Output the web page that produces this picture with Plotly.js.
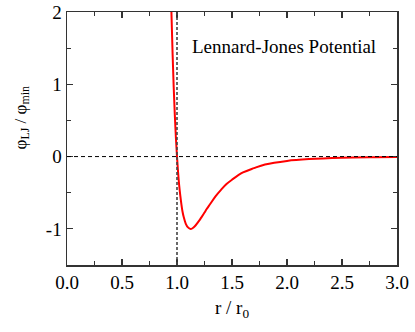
<!DOCTYPE html>
<html>
<head>
<meta charset="utf-8">
<script src="https://cdn.plot.ly/plotly-3.0.1.min.js"></script>
<style>
  html, body { margin: 0; padding: 0; background: #fff; }
  #chart { width: 415px; height: 332px; }
</style>
</head>
<body>
<div id="chart"></div>
<script>
// values
var rOverR0 = [0.94, 0.95, 0.96, 0.97, 0.98, 0.99, 1.00, 1.01, 1.02, 1.03, 1.04, 1.05, 1.06, 1.08,
               1.10, 1.12, 1.13, 1.15, 1.17, 1.20, 1.22, 1.25, 1.27, 1.30, 1.35, 1.40, 1.45, 1.50, 1.60,
               1.70, 1.80, 2.00, 2.20, 2.50, 2.80, 3.00];
var phiRatio = [2.61, 1.96, 1.42, 0.96, 0.58, 0.26, 0.00, -0.22, -0.40, -0.54, -0.66, -0.76, -0.83, -0.93,
                -0.98, -1.00, -1.00, -0.98, -0.95, -0.89, -0.845, -0.775, -0.725, -0.66, -0.55, -0.46, -0.38, -0.32, -0.22,
                -0.16, -0.11, -0.06, -0.035, -0.016, -0.008, -0.005];

// axis ticks
var yTickVals = [-1, 0, 1, 2];
var yTickText = ['-1', '0', '1', '2'];

// dashed reference lines
var zeroLevel = 0;
var zeroCrossing = 1;

var serif = "'Liberation Serif', 'Times New Roman', Times, serif";

var curve = {
    x: rOverR0,
    y: phiRatio,
    mode: 'lines',
    line: { color: '#ff0000', width: 2, shape: 'spline', smoothing: 1 },
    hoverinfo: 'skip',
    showlegend: false
};

var axisCommon = {
    showgrid: false,
    zeroline: false,
    showline: true,
    linecolor: '#333333',
    linewidth: 1.5,
    mirror: 'ticks',
    ticks: 'inside',
    ticklen: 6,
    tickwidth: 1.2,
    tickcolor: '#333333',
    tickfont: { family: serif, size: 19, color: '#000' }
};

var layout = {
    width: 415,
    height: 332,
    margin: { l: 67, r: 18, t: 12, b: 67 },
    paper_bgcolor: '#fff',
    plot_bgcolor: '#fff',
    xaxis: Object.assign({}, axisCommon, {
        range: [0, 3],
        dtick: 0.5,
        tickformat: '.1f',
        minor: { ticks: 'inside', dtick: 0.25, ticklen: 4, tickcolor: '#333333', tickwidth: 1.2 },
        title: { text: 'r / r<sub>0</sub>', font: { family: serif, size: 19, color: '#000' }, standoff: 8 }
    }),
    yaxis: Object.assign({}, axisCommon, {
        range: [-1.5, 2],
        tickmode: 'array',
        tickvals: yTickVals,
        ticktext: yTickText,
        minor: { ticks: 'inside', dtick: 0.5, ticklen: 4, tickcolor: '#333333', tickwidth: 1.2 }
    }),
    shapes: [
        {
            type: 'line', xref: 'paper', x0: 0, x1: 1, yref: 'y', y0: zeroLevel, y1: zeroLevel,
            line: { color: '#000', width: 1, dash: '4px,3px' }
        },
        {
            type: 'line', xref: 'x', x0: zeroCrossing, x1: zeroCrossing, yref: 'paper', y0: 0, y1: 1,
            line: { color: '#444', width: 1.6, dash: '3px,2px' }
        }
    ],
    annotations: [
        {
            x: 1.12, y: 1.52, xref: 'x', yref: 'y',
            xanchor: 'left', yanchor: 'middle',
            text: 'Lennard-Jones Potential',
            font: { family: serif, size: 19, color: '#000' },
            showarrow: false
        },
        {
            // y axis title, set above the plot centre as in the reference
            x: -0.136, y: 0.58, xref: 'paper', yref: 'paper',
            xanchor: 'center', yanchor: 'middle',
            textangle: -90,
            text: 'φ<sub>LJ</sub> / φ<sub>min</sub>',
            font: { family: serif, size: 17, color: '#000' },
            showarrow: false
        }
    ]
};

Plotly.newPlot('chart', [curve], layout, { displayModeBar: false, staticPlot: true });
</script>
</body>
</html>
